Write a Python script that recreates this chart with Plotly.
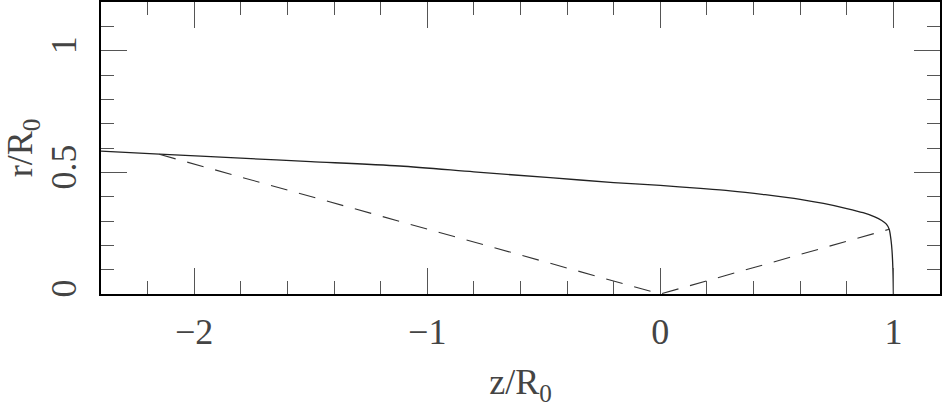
import plotly.graph_objects as go

# Solid curve (boundary)
z_solid = [-2.4, -2.15, -1.8, -1.5, -1.118, -0.8, -0.473, -0.2, 0.0, 0.172, 0.3, 0.45,
           0.6, 0.7, 0.8, 0.87, 0.92, 0.95, 0.97, 0.982, 0.99, 0.994, 0.998, 1.0]
r_solid = [0.587, 0.575, 0.558, 0.544, 0.526, 0.502, 0.478, 0.458, 0.446, 0.434, 0.424, 0.408,
           0.389, 0.372, 0.351, 0.334, 0.317, 0.302, 0.287, 0.266, 0.22, 0.18, 0.1, 0.0]

# Dashed lines
z_dash = [-2.15, 0.0, 0.982]
r_dash = [0.574, 0.0, 0.266]

x_ticks = [-2, -1, 0, 1]
y_ticks = [0, 0.5, 1]
y_ticktext = ["0", "0.5", "1"]

fig = go.Figure()
fig.add_trace(go.Scatter(x=z_solid, y=r_solid, mode="lines", line_shape="spline",
                         line=dict(color="#222", width=1.3, smoothing=0.8), showlegend=False))
fig.add_trace(go.Scatter(x=z_dash, y=r_dash, mode="lines",
                         line=dict(color="#333", width=1.1, dash="17px,12px"), showlegend=False))

font_fam = "Liberation Serif"
txt_col = "#444"
fs = 36
fig.update_layout(
    width=942, height=407,
    margin=dict(l=101, r=2, t=2, b=113),
    paper_bgcolor="white", plot_bgcolor="white",
    font=dict(family=font_fam, color=txt_col, size=fs),
)
fig.update_xaxes(
    range=[-2.4, 1.2], tickmode="array", tickvals=x_ticks, automargin=False,
    ticks="inside", ticklen=26, tickwidth=1, tickcolor="#555",
    minor=dict(dtick=0.2, tick0=0, ticks="inside", ticklen=13, tickwidth=1, tickcolor="#555"),
    showline=True, linecolor="black", linewidth=1.5, mirror="allticks",
    showgrid=False, zeroline=False, ticklabelstandoff=5,
    tickfont=dict(size=fs, family=font_fam, color=txt_col),
    title=dict(text="z/R<sub>0</sub>", font=dict(size=fs, family=font_fam, color=txt_col), standoff=22),
)
fig.update_yaxes(
    range=[0, 1.2], tickmode="array", tickvals=y_ticks, ticktext=y_ticktext, automargin=False,
    ticks="inside", ticklen=26, tickwidth=1, tickcolor="#555",
    minor=dict(dtick=0.1, tick0=0, ticks="inside", ticklen=13, tickwidth=1, tickcolor="#555"),
    showline=True, linecolor="black", linewidth=1.5, mirror="allticks",
    showgrid=False, zeroline=False, tickangle=-90, ticklabelstandoff=9,
    tickfont=dict(size=fs, family=font_fam, color=txt_col),
    title=dict(text="r/R<sub>0</sub>", font=dict(size=fs, family=font_fam, color=txt_col), standoff=2),
)

fig.write_html("out.html", config={"displayModeBar": False},
               post_script="document.body.style.margin='0';")
